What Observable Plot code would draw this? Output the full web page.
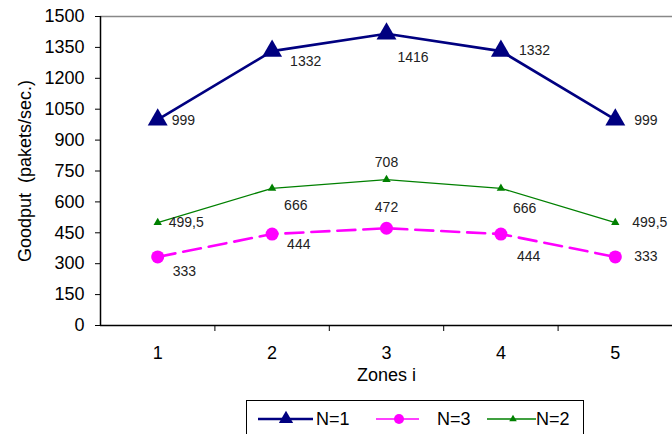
<!DOCTYPE html>
<html><head><meta charset="utf-8">
<script src="https://cdn.jsdelivr.net/npm/d3@7"></script>
<script src="https://cdn.jsdelivr.net/npm/@observablehq/plot@0.6"></script>
<style>
html,body{margin:0;padding:0;background:#fff;overflow:hidden;}
#chart{position:relative;width:672px;height:434px;font-family:"Liberation Sans",Arial,sans-serif;}
#legend{position:absolute;left:246px;top:400px;width:338px;height:50px;border:1.5px solid #000;box-sizing:border-box;background:#fff;}
</style></head><body><div id="chart"></div>
<script>
// ---- data ----
const zones = [1, 2, 3, 4, 5];
const n1 = [999, 1332, 1416, 1332, 999];
const n3 = [333, 444, 472, 444, 333];
const n2 = [499.5, 666, 708, 666, 499.5];
const n1Labels = ["999", "1332", "1416", "1332", "999"];
const n3Labels = ["333", "444", "472", "444", "333"];
const n2Labels = ["499,5", "666", "708", "666", "499,5"];
const yTicks = [0, 150, 300, 450, 600, 750, 900, 1050, 1200, 1350, 1500];
const seriesNames = ["N=1", "N=3", "N=2"];

// ---- layout / style (label placement: dx, dy, anchor) ----
const n1Place = [[14, 1, "start"], [18, 10, "start"], [11, 24, "start"], [18, -1, "start"], [19, 1, "start"]];
const n3Place = [[15, 15, "start"], [15, 10, "start"], [0, -21, "middle"], [16, 22, "start"], [19, 0, "start"]];
const n2Place = [[11, 0, "start"], [12, 17, "start"], [0, -17, "middle"], [12, 20, "start"], [17, 0, "start"]];
const styles = {
  "N=1": {color: "#000080", width: 2.6, dash: null, symbol: "triangle", r: 7.4, legendR: 5.3},
  "N=3": {color: "#ff00ff", width: 2.6, dash: "18,8", symbol: "circle", r: 6.5, legendR: 5},
  "N=2": {color: "#008000", width: 1.3, dash: null, symbol: "triangle", r: 3.1, legendR: 2.8}
};
const zoneBounds = zones.slice(1).map(z => z - 0.5);

function series(name, values, labels, place) {
  const st = styles[name];
  const data = zones.map((z, i) => ({zone: z, value: values[i], label: labels[i]}));
  const marks = [
    Plot.line(data, {x: "zone", y: "value", stroke: st.color, strokeWidth: st.width, strokeDasharray: st.dash}),
    Plot.dot(data, {x: "zone", y: "value", symbol: st.symbol, r: st.r, fill: st.color, stroke: "none"})
  ];
  data.forEach((d, i) => marks.push(Plot.text([d], {
    x: "zone", y: "value", text: "label", dx: place[i][0], dy: place[i][1],
    textAnchor: place[i][2], fontSize: 14, fill: "#222"
  })));
  return marks;
}

const plot = Plot.plot({
  width: 672, height: 434,
  marginLeft: 100, marginRight: 0, marginTop: 16, marginBottom: 109,
  x: {type: "linear", domain: [zones[0] - 0.5, zones[zones.length - 1] + 0.5]},
  y: {domain: [0, 1500]},
  style: {fontFamily: "'Liberation Sans', Arial, sans-serif", fontSize: "18px", color: "#000", background: "transparent"},
  marks: [
    Plot.ruleY([yTicks[yTicks.length - 1]], {stroke: "#888", strokeWidth: 1.5}),
    Plot.axisY({ticks: yTicks, tickSize: 5, tickPadding: 11, fontSize: 18, tickFormat: d => String(d),
      label: "Goodput  (pakets/sec.)", labelAnchor: "center", labelOffset: 82, labelArrow: "none"}),
    Plot.axisX({ticks: zoneBounds, tickSize: 6, tickFormat: () => "", label: null}),
    Plot.axisX({ticks: zones, tickSize: 0, tickPadding: 21, fontSize: 18, tickFormat: d => String(d),
      label: "Zones i", labelAnchor: "center", labelOffset: 55, labelArrow: "none"}),
    Plot.ruleX([zones[0] - 0.5], {strokeWidth: 1.5}),
    Plot.ruleY([0], {strokeWidth: 1.5}),
    ...series("N=2", n2, n2Labels, n2Place),
    ...series("N=3", n3, n3Labels, n3Place),
    ...series("N=1", n1, n1Labels, n1Place)
  ]
});
const chart = document.getElementById("chart");
chart.appendChild(plot);

// ---- legend ----
const legend = d3.select(chart).append("div").attr("id", "legend");
const svg = legend.append("svg").attr("width", 338).attr("height", 50);
const itemX = {"N=1": [11, 66, 39, 69], "N=3": [129, 172, 152, 190], "N=2": [240, 289, 266, 289]};
seriesNames.forEach(name => {
  const st = styles[name];
  const [x0, x1, cx, tx] = itemX[name];
  svg.append("line").attr("x1", x0).attr("x2", x1).attr("y1", 18).attr("y2", 18)
    .attr("stroke", st.color).attr("stroke-width", name === "N=1" ? 2.6 : 1.3);
  const sym = st.symbol === "circle" ? d3.symbolCircle : d3.symbolTriangle;
  svg.append("path").attr("d", d3.symbol(sym, Math.PI * st.legendR * st.legendR)())
    .attr("transform", `translate(${cx},18)`).attr("fill", st.color);
  svg.append("text").attr("x", tx).attr("y", 18).attr("dy", "0.35em")
    .attr("font-size", 18).attr("font-family", "'Liberation Sans', Arial, sans-serif").text(name);
});
</script></body></html>
